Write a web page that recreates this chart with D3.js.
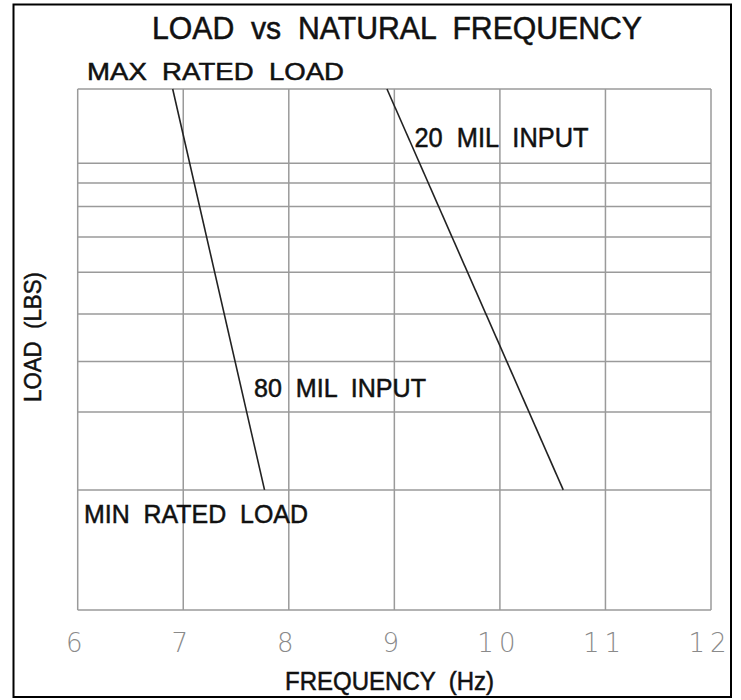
<!DOCTYPE html>
<html>
<head>
<meta charset="utf-8">
<script src="https://cdn.jsdelivr.net/npm/d3@7"></script>
<style>
  html, body { margin: 0; padding: 0; background: #fff; }
  text { font-family: 'Liberation Sans', Arial, sans-serif; fill: #111; }
</style>
</head>
<body>
<div id="chart"></div>
<script>
// frequency ticks (Hz) and load grid lines (lbs, no labels on the original)
const freqTicks = [6, 7, 8, 9, 10, 11, 12]
const loadDomain = [100, 1000]
const loadGrid = [170, 240, 300, 370, 445, 520, 595, 660, 720]

// the two input curves, from max rated load down to min rated load
const input80 = [{ freq: 6.90, load: 1000 }, { freq: 7.77, load: 170 }]
const input20 = [{ freq: 8.93, load: 1000 }, { freq: 10.60, load: 170 }]

const config = {
    width: 741,
    height: 700,
    plot: { left: 77.7, right: 711, top: 89, bottom: 610 },
    gridColor: '#9a9a9a',
}

const svg = d3
    .select('#chart')
    .append('svg')
    .attr('width', config.width)
    .attr('height', config.height)

// outer frame
svg.append('rect')
    .attr('x', 13.5)
    .attr('y', 4.5)
    .attr('width', 717.5)
    .attr('height', 692.5)
    .attr('fill', 'none')
    .attr('stroke', '#000')
    .attr('stroke-width', 2)

const scaleX = d3
    .scaleLinear()
    .domain(d3.extent(freqTicks))
    .range([config.plot.left, config.plot.right])

const scaleY = d3
    .scaleLog()
    .domain(loadDomain)
    .range([config.plot.bottom, config.plot.top])

const grid = svg.append('g')
    .attr('stroke', config.gridColor)
    .attr('stroke-width', 1.5)

grid.selectAll('.vline')
    .data(freqTicks)
    .enter()
    .append('line')
    .attr('x1', d => scaleX(d))
    .attr('x2', d => scaleX(d))
    .attr('y1', scaleY(loadDomain[1]))
    .attr('y2', scaleY(loadDomain[0]))

grid.selectAll('.hline')
    .data(loadDomain.concat(loadGrid))
    .enter()
    .append('line')
    .attr('x1', scaleX(6))
    .attr('x2', scaleX(12))
    .attr('y1', d => scaleY(d))
    .attr('y2', d => scaleY(d))

// x axis labels only, no domain or tick marks
const xAxis = svg.append('g')
    .attr('transform', `translate(0, ${config.plot.bottom})`)
    .call(d3.axisBottom(scaleX).tickValues(freqTicks).tickSize(0).tickFormat(d3.format('d')))

xAxis.select('.domain').remove()
xAxis.selectAll('text')
    .attr('y', 42)
    .attr('dy', 0)
    .attr('dx', -1.5)
    .style('font-family', "'DejaVu Sans', sans-serif")
    .style('font-weight', 200)
    .style('font-size', '26px')
    .style('letter-spacing', '5px')
    .style('fill', '#8a8a8a')

const line = d3.line()
    .x(d => scaleX(d.freq))
    .y(d => scaleY(d.load))

svg.selectAll('.curve')
    .data([input80, input20])
    .enter()
    .append('path')
    .attr('d', line)
    .attr('fill', 'none')
    .attr('stroke', '#222')
    .attr('stroke-width', 1.6)

const labels = [
    { text: 'LOAD  vs  NATURAL  FREQUENCY', x: 152, y: 39, size: 31, len: 490 },
    { text: 'MAX  RATED  LOAD', x: 87, y: 79.5, size: 24, len: 257 },
    { text: '20  MIL  INPUT', x: 414.5, y: 146.5, size: 27, len: 174 },
    { text: '80  MIL  INPUT', x: 254, y: 396.5, size: 26, len: 172 },
    { text: 'MIN  RATED  LOAD', x: 84, y: 522.5, size: 26, len: 224 },
    { text: 'FREQUENCY  (Hz)', x: 285, y: 690, size: 25, len: 209 },
]

svg.selectAll('.label')
    .data(labels)
    .enter()
    .append('text')
    .attr('x', d => d.x)
    .attr('y', d => d.y)
    .attr('font-size', d => d.size + 'px')
    .attr('textLength', d => d.len)
    .attr('lengthAdjust', 'spacingAndGlyphs')
    .attr('stroke', '#111')
    .attr('stroke-width', 0.5)
    .style('white-space', 'pre')
    .text(d => d.text)

svg.append('text')
    .attr('transform', 'translate(41, 337) rotate(-90)')
    .attr('text-anchor', 'middle')
    .attr('font-size', '24px')
    .attr('textLength', 130)
    .attr('lengthAdjust', 'spacingAndGlyphs')
    .attr('stroke', '#111')
    .attr('stroke-width', 0.5)
    .style('white-space', 'pre')
    .text('LOAD  (LBS)')
</script>
</body>
</html>
